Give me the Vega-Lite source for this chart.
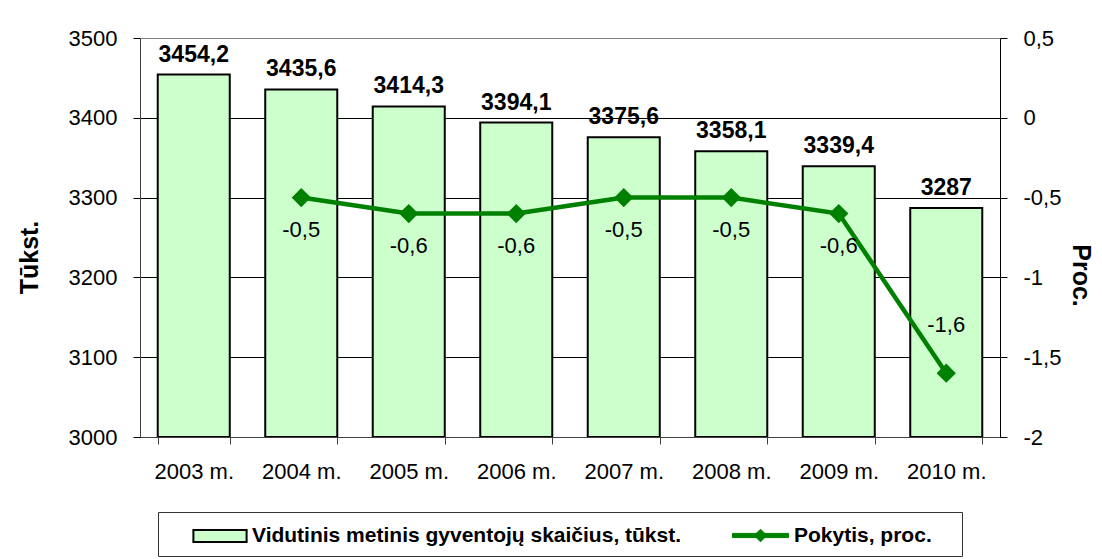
{
  "$schema": "https://vega.github.io/schema/vega-lite/v6.json",
  "width": 860,
  "height": 399,
  "autosize": {"type": "none"},
  "padding": {"left": 140, "top": 38, "right": 102, "bottom": 122},
  "background": "white",
  "config": {
    "locale": {"number": {"decimal": ",", "thousands": "", "grouping": [3], "currency": ["", ""], "minus": "-"}},
    "view": {"stroke": null},
    "font": "Liberation Sans",
    "axis": {"labelFont": "Liberation Sans", "titleFont": "Liberation Sans", "labelColor": "black", "titleColor": "black", "tickColor": "black", "domainColor": "black", "labelFontSize": 22, "tickSize": 7},
    "legend": {"labelFont": "Liberation Sans", "labelFontSize": 21, "labelFontWeight": "bold", "labelColor": "black", "labelLimit": 0, "title": null}
  },
  "data": {"values": [
    {"year": "2003 m.", "pop": 3454.2, "change": null},
    {"year": "2004 m.", "pop": 3435.6, "change": -0.5},
    {"year": "2005 m.", "pop": 3414.3, "change": -0.6},
    {"year": "2006 m.", "pop": 3394.1, "change": -0.6},
    {"year": "2007 m.", "pop": 3375.6, "change": -0.5},
    {"year": "2008 m.", "pop": 3358.1, "change": -0.5},
    {"year": "2009 m.", "pop": 3339.4, "change": -0.6},
    {"year": "2010 m.", "pop": 3287, "change": -1.6}
  ]},
  "encoding": {
    "x": {
      "field": "year", "type": "nominal", "sort": null,
      "scale": {"paddingInner": 0.33, "paddingOuter": 0.165},
      "axis": {"title": null, "labelAngle": 0, "labelPadding": 17, "tickBand": "extent", "domainColor": "#404040", "tickColor": "#404040"}
    }
  },
  "layer": [
    {
      "encoding": {
        "y": {
          "field": "pop", "type": "quantitative",
          "scale": {"domain": [3000, 3500], "zero": false, "nice": false},
          "axis": {
            "values": [3000, 3100, 3200, 3300, 3400, 3500],
            "format": "d",
            "labelPadding": 16,
            "grid": true,
            "gridColor": {"condition": {"test": "datum.value == 3500", "value": "#808080"}, "value": "black"},
            "gridWidth": 1,
            "domainColor": "#404040",
            "title": "Tūkst.",
            "titleFontSize": 25,
            "titleFontWeight": "bold",
            "titleAlign": "center",
            "titleBaseline": "middle",
            "titleX": -111,
            "titleY": 219
          }
        }
      },
      "layer": [
        {
          "mark": {"type": "bar", "stroke": "black", "strokeWidth": 2, "clip": true},
          "encoding": {
            "y2": {"datum": 3000},
            "fill": {
              "datum": "Vidutinis metinis gyventojų skaičius, tūkst.",
              "type": "nominal",
              "scale": {"range": ["#ccffcc"]},
              "legend": {
                "title": null,
                "orient": "none",
                "legendX": 18,
                "legendY": 474,
                "direction": "horizontal",
                "padding": 9,
                "strokeColor": "#333333",
                "fillColor": "white",
                "symbolType": "M-1.9,-0.43H1.9V0.43H-1.9Z",
                "symbolSize": 784,
                "symbolStrokeColor": "black",
                "symbolStrokeWidth": 2,
                "symbolOpacity": 1,
                "symbolOffset": 38,
                "labelOffset": 17,
                "labelExpr": "pad(datum.label, 88, '\u00a0') + '\u2800'"
              }
            }
          }
        },
        {
          "mark": {"type": "text", "baseline": "bottom", "dy": -8, "fontSize": 23, "fontWeight": "bold", "color": "black"},
          "encoding": {"text": {"field": "pop", "type": "quantitative", "format": "~g"}}
        }
      ]
    },
    {
      "encoding": {
        "y": {
          "field": "change", "type": "quantitative",
          "scale": {"domain": [-2, 0.5], "zero": false, "nice": false},
          "axis": {
            "orient": "right",
            "values": [-2, -1.5, -1, -0.5, 0, 0.5],
            "format": "~g",
            "labelPadding": 16,
            "grid": false,
            "title": "Proc.",
            "titleFontSize": 25,
            "titleFontWeight": "bold",
            "titleAlign": "center",
            "titleBaseline": "middle",
            "titleX": 80,
            "titleY": 237
          }
        }
      },
      "layer": [
        {
          "transform": [{"filter": "datum.change != null"}],
          "mark": {"type": "line", "strokeWidth": 4.5, "point": {"shape": "diamond", "size": 270, "filled": true, "fill": "#008000", "opacity": 1}},
          "encoding": {
            "stroke": {
              "datum": "Pokytis, proc.",
              "type": "nominal",
              "scale": {"range": ["#008000"]},
              "legend": {
                "title": null,
                "orient": "none",
                "legendX": 597,
                "legendY": 474,
                "direction": "horizontal",
                "padding": 9,
                "symbolType": "M-2,-0.15H2V0.15H-2Z M0,-0.45L0.45,0L0,0.45L-0.45,0Z",
                "symbolSize": 784,
                "symbolFillColor": "#008000",
                "symbolStrokeWidth": 1,
                "symbolOpacity": 1,
                "symbolOffset": 0,
                "labelOffset": 19
              }
            }
          }
        },
        {
          "transform": [{"filter": "datum.change != null && datum.year != '2010 m.'"}],
          "mark": {"type": "text", "baseline": "middle", "dy": 32, "fontSize": 22, "color": "black"},
          "encoding": {"text": {"field": "change", "type": "quantitative", "format": "~g"}}
        },
        {
          "transform": [{"filter": "datum.year == '2010 m.'"}],
          "mark": {"type": "text", "baseline": "middle", "dy": -48, "fontSize": 22, "color": "black"},
          "encoding": {"text": {"field": "change", "type": "quantitative", "format": "~g"}}
        }
      ]
    }
  ],
  "resolve": {"scale": {"y": "independent"}}
}
